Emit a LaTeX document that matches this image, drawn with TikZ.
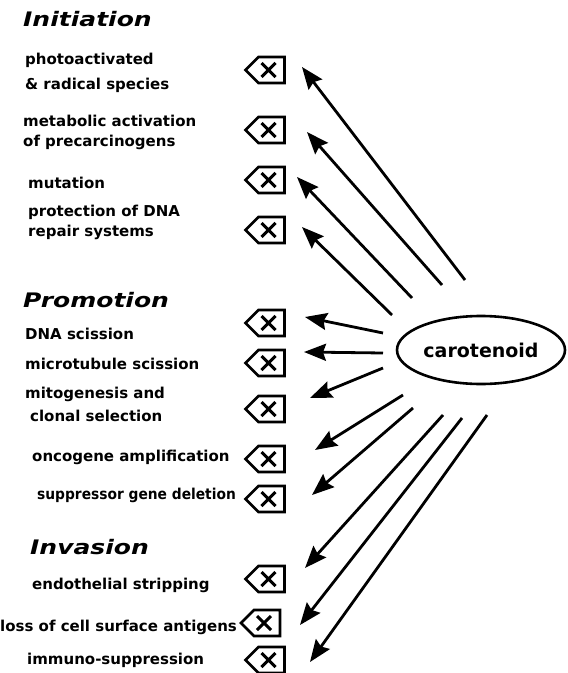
\documentclass[tikz,border=0pt]{standalone}
\usepackage{fontspec}
\usetikzlibrary{arrows.meta,shapes.symbols,shapes.geometric}
\newfontfamily\bodyfont{DejaVu Sans Bold}
\newfontfamily\narrowbodyfont[FakeStretch=0.92]{DejaVu Sans Bold}
\newfontfamily\headfont[FakeStretch=1.25]{DejaVu Sans}
\begin{document}
\begin{tikzpicture}[x=1bp,y=-1bp,
  heading/.style={anchor=base west, inner sep=0pt,
    font=\headfont\bfseries\itshape\fontsize{20bp}{22bp}\selectfont},
  item/.style={anchor=base west, inner sep=0pt,
    font=\bodyfont\fontsize{15bp}{18bp}\selectfont},
  narrowitem/.style={item, font=\narrowbodyfont\fontsize{15bp}{18bp}\selectfont},
  keybox/.style={draw, line width=2.6bp, signal, signal to=west,
    minimum width=39bp, minimum height=26bp, inner sep=0pt,
    path picture={
      \draw[line width=3bp]
        ([xshift=-3.5bp,yshift=-7bp]path picture bounding box.center) --
        ([xshift=10.5bp,yshift=7bp]path picture bounding box.center)
        ([xshift=-3.5bp,yshift=7bp]path picture bounding box.center) --
        ([xshift=10.5bp,yshift=-7bp]path picture bounding box.center);}},
  link/.style={line width=2.8bp,
    -{Stealth[length=22bp,width=17bp,inset=3bp]}},
  hub/.style={draw, line width=2.6bp, ellipse, minimum width=168bp,
    minimum height=68bp, inner sep=0pt,
    font=\bodyfont\fontsize{19bp}{22bp}\selectfont}
]
\useasboundingbox (0,0) rectangle (568,673);

% section headings
\node[heading] (hInit) at (23,27)  {Initiation};
\node[heading] (hProm) at (23,307) {Promotion};
\node[heading] (hInv)  at (30,554) {Invasion};

% initiation items
\node[item] (l1a) at (25,64.5)  {photoactivated};
\node[item] (l1b) at (25,89.5)  {\& radical species};
\node[item] (l2a) at (23,126.5) {metabolic activation};
\node[item] (l2b) at (23,146.5) {of precarcinogens};
\node[item] (l3)  at (28,188)   {mutation};
\node[item] (l4a) at (28,216)   {protection of DNA};
\node[item] (l4b) at (28,236)   {repair systems};

% promotion items
\node[item] (l5)  at (25,339.5) {DNA scission};
\node[item] (l6)  at (25,369.5) {microtubule scission};
\node[item] (l7a) at (25,398.5) {mitogenesis and};
\node[item] (l7b) at (30,421.5) {clonal selection};
\node[item] (l8)  at (32,461.5) {oncogene amplification};
\node[narrowitem] (l9) at (37,499.5) {suppressor gene deletion};

% invasion items
\node[item] (l10) at (32,589.5) {endothelial stripping};
\node[item] (l11) at (0,631.5)  {loss of cell surface antigens};
\node[item] (l12) at (27,664.5) {immuno-suppression};

% blocked-step markers
\node[keybox] (k1)  at (271.5,70)  {};
\node[keybox] (k2)  at (271.5,130) {};
\node[keybox] (k3)  at (271.5,180) {};
\node[keybox] (k4)  at (271.5,230) {};
\node[keybox] (k5)  at (271.5,323) {};
\node[keybox] (k6)  at (271.5,363) {};
\node[keybox] (k7)  at (271.5,409) {};
\node[keybox] (k8)  at (271.5,459) {};
\node[keybox] (k9)  at (271.5,499) {};
\node[keybox] (k10) at (271.5,579) {};
\node[keybox] (k11) at (267,623)   {};
\node[keybox] (k12) at (271.5,660) {};

% central agent
\node[hub] (car) at (481,350) {carotenoid};

% arrow tails near the ellipse and tips beside the markers
\coordinate (s1)  at (465,280); \coordinate (e1)  at (302,67);
\coordinate (s2)  at (442,285); \coordinate (e2)  at (307,132);
\coordinate (s3)  at (412,298); \coordinate (e3)  at (297,177);
\coordinate (s4)  at (392,315); \coordinate (e4)  at (302,227);
\coordinate (s5)  at (383,333); \coordinate (e5)  at (305,317);
\coordinate (s6)  at (383,353); \coordinate (e6)  at (304,352);
\coordinate (s7)  at (383,368); \coordinate (e7)  at (310,398);
\coordinate (s8)  at (403,395); \coordinate (e8)  at (315,450);
\coordinate (s9)  at (413,408); \coordinate (e9)  at (312,495);
\coordinate (s10) at (443,415); \coordinate (e10) at (305,568);
\coordinate (s11) at (462,418); \coordinate (e11) at (300,625);
\coordinate (s12) at (487,415); \coordinate (e12) at (310,662);

\foreach \i in {1,...,12}{\draw[link] (s\i) -- (e\i);}
\end{tikzpicture}
\end{document}
